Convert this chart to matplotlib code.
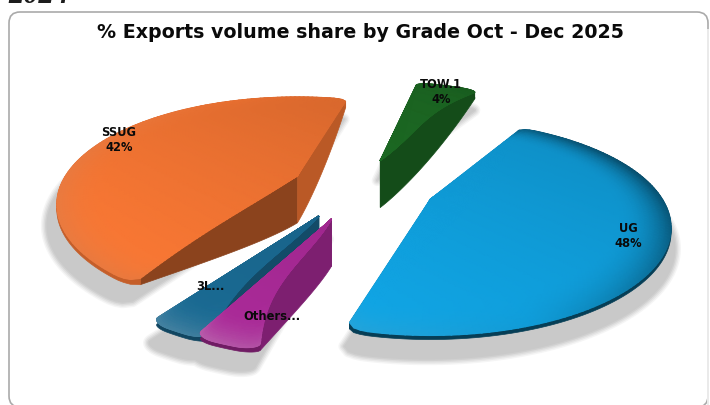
import matplotlib
matplotlib.use("Agg")
import matplotlib.pyplot as plt
import numpy as np
from matplotlib.patches import FancyBboxPatch, Polygon

# clockwise from the start angle, same order as the source chart
GRADES = ["UG", "Others...", "3L...", "SSUG", "TOW.1"]
SHARES = [48, 3, 3, 42, 4]
COLORS = ["#0f9bd7", "#a0288f", "#19648a", "#e86f30", "#1c6923"]
SHOW_PCT = [True, False, False, True, True]
TITLE = "% Exports volume share by Grade Oct - Dec 2025"

START_ANGLE = 24.0
CX, CY = 361.0, 188.0
EXPLODE = 0.31
A, B, K = 232.0, 100.0, 0.267    # fake-3d projection of the disc
H = 43.0                         # thickness at the centre
RIM_H = 4.0

# the source's perspective stretches some slices, nudges in degrees
NUDGE_START = [5, -3, -6, -5, 2]
NUDGE_END = [-1, -1, -4, 6, 7]
BOW_START = [0, 5, 4, 1.5, 0]
BOW_END = [0, 0, 0, 0, 5]
WALL_SHADE = [0.78, 0.78, 0.75, 0.60, 0.72]
END_WALL_SHADE = [0.6, 0.78, 0.75, 0.80, 0.72]
RIM_SHADE = [0.40, 0.70, 0.70, 0.85, 0.70]
RIM_DARK = [0.50, 0.30, 0.30, 0.10, 0.15]
RIM_LIGHT = [0.15, 0.35, 0.25, 0.08, 0.0]
LABEL_POS = [(628, 236), (272, 317), (210, 287), (119, 140), (441, 92)]
DRAW_ORDER = [3, 4, 0, 2, 1]


def project(x, y):
    w = 1 + K * y
    return A * x / w, -B * y / w


def rim_radius(th, t1, t2):
    # slightly rounded corners where the rim meets the straight edges
    delta = min(5.0, (t2 - t1) / 3)
    d = np.minimum(th - t1, t2 - th)
    u = np.clip(1 - d / delta, 0, 1)
    return 1 - 0.035 * (1 - np.sqrt(1 - u ** 2))


def wedge_xy(r, th, mid):
    m = np.radians(mid)
    ax, ay = project(EXPLODE * np.sin(m), EXPLODE * np.cos(m))
    a = np.radians(th)
    lx, ly = project(r * np.sin(a), r * np.cos(a))
    return CX + ax + lx, CY + ay + ly


def thickness(r):
    return H * (1 - r ** 1.5) + RIM_H


def top_colors(base, r, th, rr, dark, glow):
    rgb = np.array(matplotlib.colors.to_rgb(base))
    a = np.radians(th)
    # overall light from the lower left
    light = 1 - 0.08 * (r * np.sin(a) + r * np.cos(a)) / 1.4
    out = light[..., None] * rgb
    t = np.clip((r / rr - 0.80) / 0.20, 0, 1) ** 2
    facing = np.cos(np.radians(th - 250))
    rim = np.where(facing[..., None] > 0,
                   rgb + (1 - rgb) * glow * facing[..., None],
                   rgb * (1 + dark * facing[..., None]))
    out = out * (1 - t[..., None]) + rim * t[..., None]
    return np.clip(out, 0, 1)


def wedge_outline(t1, t2, mid):
    th = np.linspace(t1, t2, 120)
    rr = rim_radius(th, t1, t2)
    x, y = wedge_xy(rr, th, mid)
    ax, ay = wedge_xy(0.0, t1, mid)
    return np.r_[ax, x], np.r_[ay, y], ax, ay


def draw_shadows(ax, spans, mids):
    layers = [(8, "#f5f5f5"), (6, "#e9e9e9"), (4, "#dddddd"), (2, "#d0d0d0"), (0, "#c9c9c9")]
    for lw, col in layers:
        for (t1, t2), mid in zip(spans, mids):
            x, y, px, py = wedge_outline(t1, t2, mid)
            sx = px + (x - px) * 1.03 - 3
            sy = py + (y - py) * 1.03 + 20
            ax.add_patch(Polygon(np.c_[sx, sy], closed=True, fc=col, ec=col, lw=lw,
                                 joinstyle="round", zorder=1))


def draw_wedge(ax, i, t1, t2, mid, z):
    base = COLORS[i]
    rgb = np.array(matplotlib.colors.to_rgb(base))
    rs = np.linspace(0, 1, 40)
    bow = np.sin(np.pi * rs)
    corner = rim_radius(np.array([t1]), t1, t2)[0]
    # straight walls, the ones facing away end up under the top face
    walls = ((t1, t1 + BOW_START[i] * bow, WALL_SHADE[i]), (t2, t2 - BOW_END[i] * bow, END_WALL_SHADE[i]))
    for edge, bowed, shade in walls:
        x, y = wedge_xy(rs * corner, bowed, mid)
        xs, ys = wedge_xy(rs * corner, edge, mid)
        low = ys + thickness(rs * corner)
        pts = np.r_[np.c_[x, y], np.c_[xs, low][::-1]]
        ax.add_patch(Polygon(pts, closed=True, fc=rgb * shade, ec=rgb * shade, lw=0.5, zorder=z))

    # rim wall
    th = np.linspace(t1, t2, 120)
    rr = rim_radius(th, t1, t2)
    x, y = wedge_xy(rr, th, mid)
    low = y + thickness(rr)
    pts = np.r_[np.c_[x, y], np.c_[x, low][::-1]]
    ax.add_patch(Polygon(pts, closed=True, fc=rgb * RIM_SHADE[i], ec=rgb * RIM_SHADE[i], lw=0.5, zorder=z))

    # top face
    rad = np.linspace(0, 1, 50)
    R, V = np.meshgrid(rad, np.linspace(0, 1, 120))
    bow2 = np.sin(np.pi * R)
    left = t1 + BOW_START[i] * bow2
    right = t2 - BOW_END[i] * bow2
    T = left + (right - left) * V
    RR = R * rr[:, None]
    X, Y = wedge_xy(RR, T, mid)
    C = top_colors(base, RR, T, rr[:, None], RIM_DARK[i], RIM_LIGHT[i])
    ax.pcolormesh(X, Y, C, shading="gouraud", zorder=z + 0.5, rasterized=True)


def main():
    fig = plt.figure(figsize=(7.1, 4.05), dpi=100)
    ax = fig.add_axes([0, 0, 1, 1])
    ax.set_xlim(0, 710)
    ax.set_ylim(405, 0)
    ax.axis("off")

    ax.add_patch(FancyBboxPatch((9, 12), 699, 395, boxstyle="round,pad=0,rounding_size=11",
                                fc="white", ec="#aaaaaa", lw=1.2, zorder=0))
    ax.plot([708, 708], [30, 405], color="#ececec", lw=1.4, zorder=0.5)
    ax.text(8, 3, "2024", family="Liberation Serif", style="italic", weight="bold",
            fontsize=22, color="#1c1c1c", ha="left", va="baseline", zorder=6)
    ax.text(360.5, 32, TITLE, family="DejaVu Sans", weight="bold", fontsize=13.65,
            color="#0a0a0a", ha="center", va="center", zorder=6)

    angles = START_ANGLE + np.r_[0, np.cumsum(SHARES)] * 3.6
    mids = (angles[:-1] + angles[1:]) / 2
    spans = [(a + ns, b + ne) for a, b, ns, ne in zip(angles[:-1], angles[1:], NUDGE_START, NUDGE_END)]
    draw_shadows(ax, spans, mids)
    for n, i in enumerate(DRAW_ORDER):
        t1, t2 = spans[i]
        draw_wedge(ax, i, t1, t2, mids[i], 2 + n)

    for name, share, show, pos in zip(GRADES, SHARES, SHOW_PCT, LABEL_POS):
        label = f"{name}\n{share}%" if show else name
        ax.text(pos[0], pos[1], label, family="DejaVu Sans", weight="bold", fontsize=8.3,
                color="#0a0a0a", ha="center", va="center", linespacing=1.2, zorder=10)

    fig.savefig("out.png", dpi=100)


if __name__ == "__main__":
    main()
